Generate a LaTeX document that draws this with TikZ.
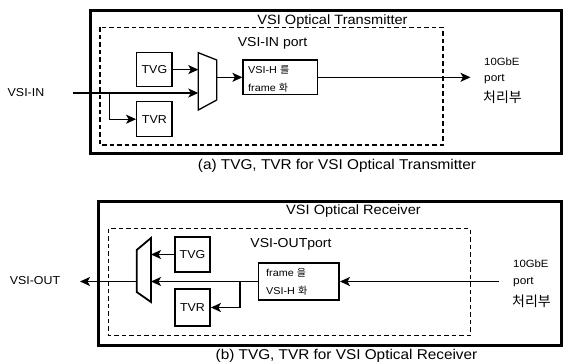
\documentclass[tikz,border=0pt]{standalone}
\usepackage{fontspec}
\setmainfont{Liberation Sans}[FakeStretch=1.08]
\newfontfamily\kr{Noto Sans CJK KR}
\usetikzlibrary{arrows.meta}
\begin{document}
\begin{tikzpicture}[x=1pt,y=-1pt,
  outerframe/.style={line width=3pt},
  dframe/.style={line width=1.5pt, dash pattern=on 4.5pt off 3pt},
  blk/.style={draw, line width=1.3pt, inner sep=0pt, font=\fontsize{11.5}{13}\selectfont},
  blkb/.style={draw, line width=1.8pt, inner sep=0pt, font=\fontsize{11.5}{13}\selectfont},
  arr/.style={-{Stealth[length=10pt,width=9pt,inset=2.5pt]}, line width=1.3pt},
  arrb/.style={-{Stealth[length=10pt,width=9pt,inset=2.5pt]}, line width=1.8pt},
  ttl/.style={font=\fontsize{13.5}{16}\selectfont, inner sep=0pt},
  captiontext/.style={font=\fontsize{14.2}{16}\selectfont, inner sep=0pt},
  prt/.style={font=\fontsize{13}{15}\selectfont, inner sep=0pt},
  io/.style={font=\fontsize{11.5}{14}\selectfont, inner sep=0pt},
  small/.style={font=\fontsize{10}{11}\selectfont, inner sep=0pt, anchor=west},
  gbe/.style={font=\fontsize{10.5}{12}\selectfont, inner sep=0pt, anchor=west},
  krl/.style={font=\kr\fontsize{14}{15}\selectfont, inner sep=0pt, anchor=west}]
\useasboundingbox (0,0) rectangle (566,364);

% ---------------- (a) ----------------
\draw[outerframe] (90,10.7) rectangle (561.7,153);
\draw[dframe] (100,27.3) rectangle (443,145);
\node[ttl] (ttla) at (332.5,21) {VSI Optical Transmitter};
\node[prt] (porta) at (272.5,43.3) {VSI-IN port};

\node[blk, minimum width=35.3pt, minimum height=34pt] (tvga) at (154.4,69.6) {TVG};
\node[blk, minimum width=35.3pt, minimum height=35pt] (tvra) at (154.4,119.2) {TVR};
\draw[line width=1.3pt] (198.3,52.7) -- (216.7,60) -- (216.7,100) -- (198.3,110) -- cycle;
\coordinate (muxaL) at (198.3,80);
\coordinate (muxaR) at (216.7,77.3);
\node[blk, minimum width=74.5pt, minimum height=34.5pt] (vsiha) at (280.3,77.3) {};
\node[small] (ha1) at (248,70) {VSI-H {\kr 를}};
\node[small] (ha2) at (248,87.5) {frame {\kr 화}};

\node[io] (vsiin) at (26,93) {VSI-IN};
\coordinate (inA) at (72.7,93);
\coordinate (brA) at (109.3,93);
\coordinate (outA) at (470.5,77.3);

\draw[arr] (tvga.east) -- (tvga.east -| muxaL);
\draw[arr] (inA) -- (inA -| muxaL);
\draw[arr] (brA) |- (tvra.west);
\draw[arr] (muxaR) -- (vsiha.west);
\draw[arr] (vsiha.east) -- (outA);

\node[gbe] (gbea) at (484,61.7) {10GbE};
\node[gbe, font=\fontsize{11}{12}\selectfont] (pta) at (484,79.5) {port};
\node[krl] (kra) at (483,97) {처리부};

\node[captiontext] (capa) at (337,166) {(a) TVG, TVR for VSI Optical Transmitter};

% ---------------- (b) ----------------
\draw[outerframe] (98.3,201.5) rectangle (561.7,345);
\draw[dframe] (108.3,228.7) rectangle (470.4,335.3);
\node[ttl] (ttlb) at (353.5,211.5) {VSI Optical Receiver};
\node[prt] (portb) at (291,244) {VSI-OUTport};

\draw[line width=1.8pt] (136.7,250) -- (151,238) -- (151,302) -- (136.7,292) -- cycle;
\coordinate (muxbR) at (151,270);
\coordinate (muxbL) at (136.7,281.5);
\node[blkb, minimum width=35pt, minimum height=35pt] (tvgb) at (192.5,254.5) {TVG};
\node[blkb, minimum width=35pt, minimum height=37pt] (tvrb) at (192.5,307.5) {TVR};
\node[blkb, minimum width=80.5pt, minimum height=37pt] (frameb) at (298.8,281.5) {};
\node[small] (hb1) at (266,273) {frame {\kr 을}};
\node[small] (hb2) at (266,291) {VSI-H {\kr 화}};

\node[io] (vsiout) at (35,281) {VSI-OUT};
\coordinate (inB) at (499,281.5);
\coordinate (brB) at (240,281.5);
\coordinate (outB) at (80,281.5);

\draw[arrb] (inB) -- (frameb.east);
\draw[arrb] (frameb.west) -- (frameb.west -| muxbR);
\draw[arrb] (brB) |- (tvrb.east);
\draw[arrb] (tvgb.west) -- (tvgb.west -| muxbR);
\draw[arrb] (muxbL) -- (outB);

\node[gbe] (gbeb) at (513,264) {10GbE};
\node[gbe, font=\fontsize{11}{12}\selectfont] (ptb) at (513,282) {port};
\node[krl] (krb) at (512,301) {처리부};

\node[captiontext] (capb) at (346.5,356) {(b) TVG, TVR for VSI Optical Receiver};
\end{tikzpicture}
\end{document}
